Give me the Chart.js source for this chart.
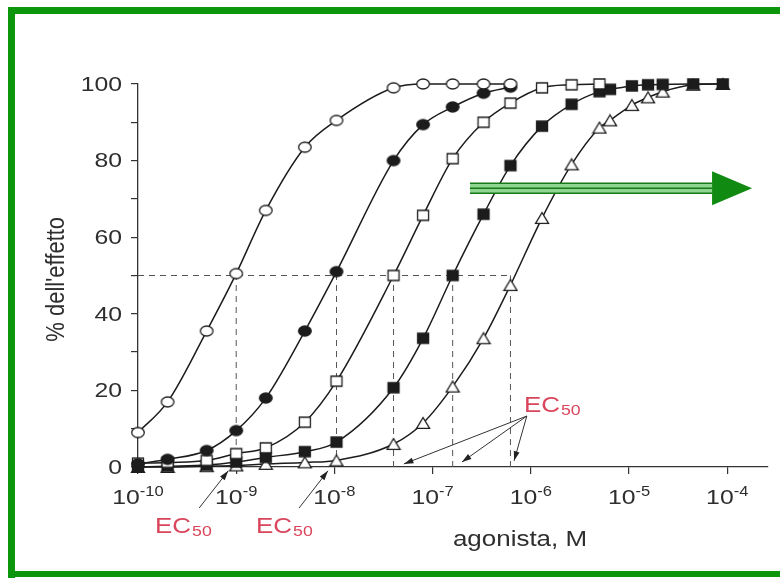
<!DOCTYPE html>
<html>
<head>
<meta charset="utf-8">
<script src="https://cdn.jsdelivr.net/npm/chart.js@4.4.1/dist/chart.umd.min.js"></script>
<style>
  body { margin: 0; background: #fff; }
  #myChart { display: block; }
</style>
</head>
<body>
<canvas id="myChart" width="780" height="578"></canvas>
<script>
const cts = document.querySelector('#myChart').getContext('2d');

// agonist concentration (M) of every measured point
const conc = [
    1e-10, 2e-10, 5e-10, 1e-9, 2e-9, 5e-9, 1.05e-8, 4e-8, 8e-8, 1.6e-7, 3.3e-7,
    6.2e-7, 1.3e-6, 2.6e-6, 5e-6, 6.4e-6, 1.07e-5, 1.56e-5, 2.2e-5, 4.5e-5, 9e-5,
];

// % of effect, one list per curve (null = no point at that concentration)
const openCircles = [9, 17, 35.5, 50.5, 67, 83.5, 90.5, 99, 100, 100, 100, 100,
    null, null, null, null, null, null, null, null, null];
const filledCircles = [0.8, 2, 4.3, 9.5, 18, 35.5, 51, 80, 89.4, 94, 97.6, 99.2,
    null, null, null, null, null, null, null, null, null];
const openSquares = [1, 1.2, 1.7, 3.5, 5, 11.7, 22.4, 50, 65.7, 80.5, 90, 95, 99, 99.8, 100,
    null, null, null, null, null, null];
const filledSquares = [0, 0.2, 0.5, 1.3, 2.5, 4, 6.5, 20.7, 33.6, 50, 66, 78.7, 89, 94.7, 98,
    98.6, 99.5, 99.8, 99.9, 100, 100];
const triangles = [0, 0, 0.2, 0.4, 0.8, 1.2, 1.7, 6, 11.5, 21, 33.6, 47.5, 65, 79, 88.6,
    90.5, 94.5, 96.5, 98, 99.8, 100];

// EC50 of each curve (M)
const ec50 = [1e-9, 1.05e-8, 4e-8, 1.6e-7, 6.2e-7];

const xTickExponents = [-10, -9, -8, -7, -6, -5, -4];
const yTickLabels = [0, 20, 40, 60, 80, 100];

const SX = 1.18; // the picture is stretched sideways
const FONT = '"Liberation Sans", Arial, sans-serif';
const INK = '#1c1c1c';

function marker(shape, filled) {
    const c = document.createElement('canvas');
    c.width = 16;
    c.height = 14;
    const g = c.getContext('2d');
    g.lineWidth = 1.3;
    g.strokeStyle = INK;
    g.fillStyle = filled ? INK : '#fff';
    g.beginPath();
    if (shape === 'circle') g.ellipse(8, 7, 6.3, 5, 0, 0, Math.PI * 2);
    else if (shape === 'square') g.rect(2.5, 2, 11, 10);
    else { g.moveTo(8, 1.5); g.lineTo(14.5, 12.3); g.lineTo(1.5, 12.3); g.closePath(); }
    g.fill();
    g.stroke();
    return c;
}

const pts = ys => conc.map((x, i) => ({ x, y: ys[i] }));

const curve = (ys, style) => ({
    data: pts(ys),
    borderColor: INK,
    borderWidth: 1.5,
    pointStyle: style,
    pointRadius: 6,
    cubicInterpolationMode: 'monotone',
    spanGaps: true,
    clip: false,
    order: 1,
});

const dash = data => ({
    data,
    borderColor: '#555',
    borderWidth: 1,
    borderDash: [6, 5],
    pointRadius: 0,
    order: 10,
});

const data = {
    datasets: [
        curve(openCircles, marker('circle', false)),
        curve(filledCircles, marker('circle', true)),
        curve(openSquares, marker('square', false)),
        curve(filledSquares, marker('square', true)),
        curve(triangles, marker('triangle', false)),
        dash([{ x: conc[0], y: 50 }, { x: ec50[ec50.length - 1], y: 50 }]),
        ...ec50.map(e => dash([{ x: e, y: 0 }, { x: e, y: 50 }])),
    ],
};

function txt(ctx, s, x, y, size, align, base) {
    ctx.save();
    ctx.font = size + 'px ' + FONT;
    ctx.textBaseline = base || 'alphabetic';
    const w = ctx.measureText(s).width * SX;
    const left = align === 'right' ? x - w : align === 'center' ? x - w / 2 : x;
    ctx.translate(left, y);
    ctx.scale(SX, 1);
    ctx.fillText(s, 0, 0);
    ctx.restore();
    return w;
}

function width(ctx, s, size) {
    ctx.save();
    ctx.font = size + 'px ' + FONT;
    const w = ctx.measureText(s).width * SX;
    ctx.restore();
    return w;
}

function ec50Label(ctx, x, y) {
    ctx.fillStyle = '#d9465c';
    const w = txt(ctx, 'EC', x, y, 22, 'left');
    txt(ctx, '50', x + w + 1, y + 3, 15, 'left');
}

function arrow(ctx, x0, y0, x1, y1) {
    const a = Math.atan2(y1 - y0, x1 - x0);
    ctx.strokeStyle = '#333';
    ctx.fillStyle = '#222';
    ctx.lineWidth = 1;
    ctx.beginPath();
    ctx.moveTo(x0, y0);
    ctx.lineTo(x1, y1);
    ctx.stroke();
    ctx.beginPath();
    ctx.moveTo(x1, y1);
    ctx.lineTo(x1 - 10 * Math.cos(a - 0.3), y1 - 10 * Math.sin(a - 0.3));
    ctx.lineTo(x1 - 10 * Math.cos(a + 0.3), y1 - 10 * Math.sin(a + 0.3));
    ctx.closePath();
    ctx.fill();
}

const decorations = {
    id: 'decorations',
    beforeDraw(chart) {
        const ctx = chart.ctx;
        ctx.save();
        ctx.fillStyle = '#0c960c';
        ctx.fillRect(8, 7, 772, 7);
        ctx.fillRect(8, 7, 7, 571);
        ctx.fillRect(8, 571, 772, 6);
        ctx.restore();
    },
    afterDraw(chart) {
        const { ctx, chartArea } = chart;
        const { x, y } = chart.scales;
        ctx.save();
        ctx.fillStyle = '#2e2e2e';

        // y tick labels
        yTickLabels.forEach(v => txt(ctx, String(v), chartArea.left - 16, y.getPixelForValue(v) + 1, 21, 'right', 'middle'));

        // x tick labels 10^n
        xTickExponents.forEach(e => {
            const px = x.getPixelForValue(Math.pow(10, e));
            const sup = String(e);
            const w = width(ctx, '10', 21) + width(ctx, sup, 14);
            const w1 = txt(ctx, '10', px - w / 2, chartArea.bottom + 37, 21, 'left');
            txt(ctx, sup, px - w / 2 + w1, chartArea.bottom + 29, 14, 'left');
        });

        // axis titles
        txt(ctx, 'agonista, M', 520, chartArea.bottom + 79, 22, 'center');
        ctx.save();
        ctx.translate(57, y.getPixelForValue(49));
        ctx.scale(SX, 1);
        ctx.rotate(-Math.PI / 2);
        ctx.font = '22px ' + FONT;
        ctx.textAlign = 'center';
        ctx.textBaseline = 'middle';
        ctx.fillText("% dell'effetto", 0, 0);
        ctx.restore();

        // EC50 notes
        ec50Label(ctx, x.getPixelForValue(8.5e-7), y.getPixelForValue(14.4));
        const o = [x.getPixelForValue(9.1e-7), y.getPixelForValue(13.3)];
        [[5.1e-8, 0.8], [1.99e-7, 1.3], [6.75e-7, 1.6]].forEach(([cx, cy]) =>
            arrow(ctx, o[0], o[1], x.getPixelForValue(cx), y.getPixelForValue(cy)));

        ec50Label(ctx, x.getPixelForValue(1.49e-10), y.getPixelForValue(-17.2));
        ec50Label(ctx, x.getPixelForValue(1.59e-9), y.getPixelForValue(-17.2));
        arrow(ctx, x.getPixelForValue(4.2e-10), y.getPixelForValue(-10.7), x.getPixelForValue(8.3e-10), y.getPixelForValue(-1));
        arrow(ctx, x.getPixelForValue(4.37e-9), y.getPixelForValue(-10.7), x.getPixelForValue(8.6e-9), y.getPixelForValue(-1));

        // green shift arrow
        const ax0 = x.getPixelForValue(2.4e-7);
        const ax1 = x.getPixelForValue(7e-5);
        const tip = x.getPixelForValue(1.79e-4);
        const ay = y.getPixelForValue(72.8);
        ctx.fillStyle = '#8fd48f';
        ctx.fillRect(ax0, ay - 5, ax1 - ax0, 10);
        ctx.strokeStyle = '#167a16';
        ctx.lineWidth = 1.4;
        [-5, 0, 5].forEach(d => {
            ctx.beginPath();
            ctx.moveTo(ax0, ay + d);
            ctx.lineTo(ax1, ay + d);
            ctx.stroke();
        });
        ctx.fillStyle = '#108a10';
        ctx.beginPath();
        ctx.moveTo(ax1, ay - 17);
        ctx.lineTo(tip, ay);
        ctx.lineTo(ax1, ay + 17);
        ctx.closePath();
        ctx.fill();
        ctx.restore();
    },
};

const config = {
    type: 'line',
    data: data,
    options: {
        responsive: false,
        animation: false,
        devicePixelRatio: 1,
        layout: { padding: { top: 84, right: 12, left: 0, bottom: 0 } },
        plugins: { legend: { display: false }, tooltip: { enabled: false } },
        scales: {
            x: {
                type: 'logarithmic',
                min: 1e-10,
                max: 2.6e-4,
                afterBuildTicks: s => { s.ticks = xTickExponents.map(e => ({ value: Math.pow(10, e) })); },
                afterFit: s => { s.height = 111; },
                ticks: { display: false },
                grid: { drawOnChartArea: false, tickLength: 7, color: '#333', lineWidth: 1.2 },
                border: { color: '#333', width: 1.3 },
            },
            y: {
                min: 0,
                max: 100,
                afterBuildTicks: s => { s.ticks = [0, 10, 20, 30, 40, 50, 60, 70, 80, 90, 100].map(v => ({ value: v })); },
                afterFit: s => { s.width = 138; },
                ticks: { display: false },
                grid: { drawOnChartArea: false, tickLength: 7, color: '#333', lineWidth: 1.2 },
                border: { color: '#333', width: 1.3 },
            },
        },
    },
    plugins: [decorations],
};

const myChart = new Chart(cts, config);
</script>
</body>
</html>
